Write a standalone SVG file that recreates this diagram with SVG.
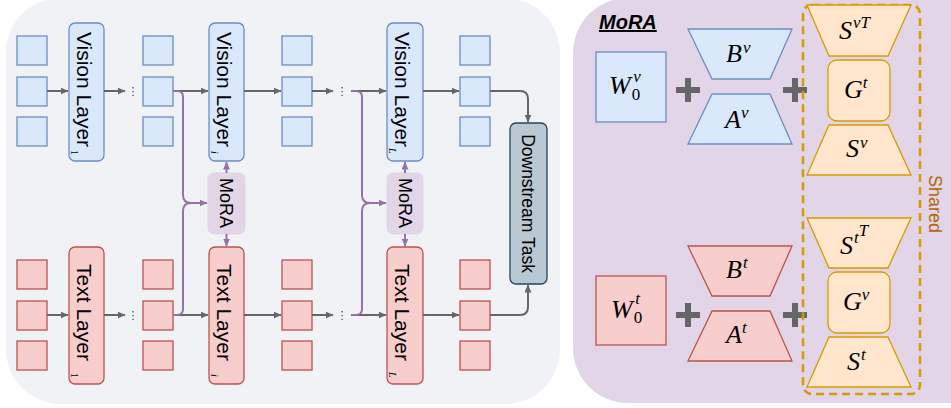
<svg xmlns="http://www.w3.org/2000/svg" width="951" height="408" viewBox="0 0 951 408">
<defs>
<style>
.bg-left{fill:#f1f2f6;}
.bg-right{fill:#e1d5e7;}
.vsq{fill:#dae8fc;stroke:#6c8ebf;stroke-width:1.3;}
.tsq{fill:#f8cecc;stroke:#b85450;stroke-width:1.3;}
.org{fill:#ffe6cc;stroke:#d79b00;stroke-width:1.3;}
.mora{fill:#e1d5e7;stroke:#e1d5e7;stroke-width:1;}
.ds{fill:#bac8d3;stroke:#23445d;stroke-width:1.3;}
.lbl{font-family:"Liberation Sans",Arial,sans-serif;font-size:21px;fill:#000;}
.mlbl{font-family:"Liberation Sans",Arial,sans-serif;font-size:18px;fill:#000;}
.sub{font-family:"Liberation Serif","Times New Roman",serif;font-size:10px;fill:#000;}
.dots{font-family:"DejaVu Sans",sans-serif;font-size:11px;fill:#333;}
.g{fill:none;stroke:#666666;stroke-width:2;}
.p{fill:none;stroke:#9673a6;stroke-width:2;}
.plus{stroke:#666666;stroke-width:6;fill:none;}
.m{font-family:"Liberation Serif","Times New Roman",serif;font-style:italic;font-size:26px;fill:#000;}
.s{font-size:17px;}
.n{font-style:normal;}
.title{font-family:"Liberation Sans",Arial,sans-serif;font-weight:bold;font-style:italic;font-size:20px;text-decoration:underline;fill:#000;}
.shared{font-family:"Liberation Sans",Arial,sans-serif;font-size:18px;fill:#b46504;}
</style>
<marker id="ag" viewBox="0 0 8 7" markerWidth="8" markerHeight="7" refX="7.5" refY="3.5" orient="auto" markerUnits="userSpaceOnUse"><path d="M0,0 L8,3.5 L0,7 z" fill="#666666"/></marker>
<marker id="ap" viewBox="0 0 8 7" markerWidth="8" markerHeight="7" refX="7.5" refY="3.5" orient="auto" markerUnits="userSpaceOnUse"><path d="M0,0 L8,3.5 L0,7 z" fill="#9673a6"/></marker>
</defs>

<rect class="bg-left" x="6" y="-2" width="554" height="406" rx="55"/>
<rect class="bg-right" x="573" y="-2" width="430" height="405" rx="55"/>

<!-- token squares -->
<g id="vision-tokens-0"><rect class="vsq" x="17" y="36" width="30" height="29"/><rect class="vsq" x="17" y="77" width="30" height="29"/><rect class="vsq" x="17" y="117" width="30" height="29"/></g>
<g id="vision-tokens-1"><rect class="vsq" x="143" y="36" width="30" height="29"/><rect class="vsq" x="143" y="77" width="30" height="29"/><rect class="vsq" x="143" y="117" width="30" height="29"/></g>
<g id="vision-tokens-2"><rect class="vsq" x="282" y="36" width="30" height="29"/><rect class="vsq" x="282" y="77" width="30" height="29"/><rect class="vsq" x="282" y="117" width="30" height="29"/></g>
<g id="vision-tokens-3"><rect class="vsq" x="460" y="36" width="30" height="29"/><rect class="vsq" x="460" y="77" width="30" height="29"/><rect class="vsq" x="460" y="117" width="30" height="29"/></g>
<g id="text-tokens-0"><rect class="tsq" x="17" y="260" width="30" height="29"/><rect class="tsq" x="17" y="301" width="30" height="29"/><rect class="tsq" x="17" y="341" width="30" height="29"/></g>
<g id="text-tokens-1"><rect class="tsq" x="143" y="260" width="30" height="29"/><rect class="tsq" x="143" y="301" width="30" height="29"/><rect class="tsq" x="143" y="341" width="30" height="29"/></g>
<g id="text-tokens-2"><rect class="tsq" x="282" y="260" width="30" height="29"/><rect class="tsq" x="282" y="301" width="30" height="29"/><rect class="tsq" x="282" y="341" width="30" height="29"/></g>
<g id="text-tokens-3"><rect class="tsq" x="460" y="260" width="30" height="29"/><rect class="tsq" x="460" y="301" width="30" height="29"/><rect class="tsq" x="460" y="341" width="30" height="29"/></g>

<!-- layers -->
<g id="vision-layer-1"><rect class="vsq" x="69" y="23" width="35" height="138" rx="6"/><text class="lbl" transform="translate(77,89.5) rotate(90)" text-anchor="middle">Vision Layer</text><text class="sub" transform="translate(71,150) rotate(90)">1</text></g>
<g id="vision-layer-i"><rect class="vsq" x="209" y="23" width="35" height="138" rx="6"/><text class="lbl" transform="translate(217,89.5) rotate(90)" text-anchor="middle">Vision Layer</text><text class="sub" font-style="italic" transform="translate(211,151) rotate(90)">i</text></g>
<g id="vision-layer-L"><rect class="vsq" x="387" y="23" width="36" height="138" rx="6"/><text class="lbl" transform="translate(395,89.5) rotate(90)" text-anchor="middle">Vision Layer</text><text class="sub" font-style="italic" transform="translate(389,148) rotate(90)">L</text></g>
<g id="text-layer-1"><rect class="tsq" x="69" y="247" width="35" height="137" rx="6"/><text class="lbl" transform="translate(77,312.5) rotate(90)" text-anchor="middle">Text Layer</text><text class="sub" transform="translate(71,373) rotate(90)">1</text></g>
<g id="text-layer-i"><rect class="tsq" x="209" y="247" width="35" height="137" rx="6"/><text class="lbl" transform="translate(217,312.5) rotate(90)" text-anchor="middle">Text Layer</text><text class="sub" font-style="italic" transform="translate(211,374) rotate(90)">i</text></g>
<g id="text-layer-L"><rect class="tsq" x="387" y="247" width="36" height="137" rx="6"/><text class="lbl" transform="translate(395,312.5) rotate(90)" text-anchor="middle">Text Layer</text><text class="sub" font-style="italic" transform="translate(389,372) rotate(90)">L</text></g>
<g id="mora-i"><rect class="mora" x="208" y="173" width="37" height="61" rx="6"/><text class="mlbl" transform="translate(219.5,203) rotate(90)" text-anchor="middle">MoRA</text></g>
<g id="mora-L"><rect class="mora" x="387" y="173" width="36" height="61" rx="6"/><text class="mlbl" transform="translate(398.5,203) rotate(90)" text-anchor="middle">MoRA</text></g>
<g id="downstream"><rect class="ds" x="510" y="123" width="37" height="161" rx="6"/><text class="mlbl" style="font-size:17.5px" transform="translate(522,203.5) rotate(90)" text-anchor="middle">Downstream Task</text></g>

<g id="ellipsis">
<text class="dots" x="133" y="95" text-anchor="middle">⋮</text>
<text class="dots" x="342" y="95" text-anchor="middle">⋮</text>
<text class="dots" x="133" y="319" text-anchor="middle">⋮</text>
<text class="dots" x="342" y="319" text-anchor="middle">⋮</text>
</g>

<!-- connectors -->
<g id="connectors">
<path class="g" d="M47,91 H68" marker-end="url(#ag)"/>
<path class="g" d="M104,91 H125" marker-end="url(#ag)"/>
<path class="g" d="M173,91 H208" marker-end="url(#ag)"/>
<path class="g" d="M244,91 H281" marker-end="url(#ag)"/>
<path class="g" d="M312,91 H333" marker-end="url(#ag)"/>
<path class="g" d="M351,91 H386" marker-end="url(#ag)"/>
<path class="g" d="M423,91 H459" marker-end="url(#ag)"/>
<path class="g" d="M490,91 H520 Q528,91 528,99 V122" marker-end="url(#ag)"/>
<path class="g" d="M47,315 H68" marker-end="url(#ag)"/>
<path class="g" d="M104,315 H125" marker-end="url(#ag)"/>
<path class="g" d="M173,315 H208" marker-end="url(#ag)"/>
<path class="g" d="M244,315 H281" marker-end="url(#ag)"/>
<path class="g" d="M312,315 H333" marker-end="url(#ag)"/>
<path class="g" d="M351,315 H386" marker-end="url(#ag)"/>
<path class="g" d="M423,315 H459" marker-end="url(#ag)"/>
<path class="g" d="M490,315 H520 Q528,315 528,307 V285" marker-end="url(#ag)"/>
<path class="p" d="M173,91 H177 Q183,91 183,97 V195 Q183,203 191,203 H207" marker-end="url(#ap)"/>
<path class="p" d="M173,315 H177 Q183,315 183,309 V211 Q183,203 191,203"/>
<path class="p" d="M351,91 H356 Q362,91 362,97 V195 Q362,203 370,203 H386" marker-end="url(#ap)"/>
<path class="p" d="M351,315 H356 Q362,315 362,309 V211 Q362,203 370,203"/>
<path class="p" d="M226.5,173 V162" marker-end="url(#ap)"/>
<path class="p" d="M226.5,234 V246" marker-end="url(#ap)"/>
<path class="p" d="M405,173 V162" marker-end="url(#ap)"/>
<path class="p" d="M405,234 V246" marker-end="url(#ap)"/>
</g>

<!-- MoRA detail panel -->
<text class="title" x="599" y="29">MoRA</text>

<g id="W0v"><rect class="vsq" x="596" y="52" width="70" height="70"/><text class="m" x="609" y="94">W<tspan class="s n" dx="1" dy="6">0</tspan><tspan class="s" dx="-7" dy="-18">v</tspan></text></g>
<g id="plus-v1"><path class="plus" d="M676,90 H700 M688,78 V102"/></g>
<g id="Bv"><polygon class="vsq" points="688,29 792,29 770,79 712,79"/><text class="m" x="726" y="62">B<tspan class="s" dx="1" dy="-9">v</tspan></text></g>
<g id="Av"><polygon class="vsq" points="712,94 770,94 792,144 688,144"/><text class="m" x="725" y="128">A<tspan class="s" dx="0" dy="-10">v</tspan></text></g>
<g id="plus-v2"><path class="plus" d="M783,90 H807 M795,78 V102"/></g>

<g id="W0t"><rect class="tsq" x="596" y="276" width="70" height="69"/><text class="m" x="611" y="318">W<tspan class="s n" dx="1" dy="5">0</tspan><tspan class="s" dx="-7" dy="-19">t</tspan></text></g>
<g id="plus-t1"><path class="plus" d="M676,315 H700 M688,303 V327"/></g>
<g id="Bt"><polygon class="tsq" points="688,246 792,246 770,296 712,296"/><text class="m" x="726" y="278">B<tspan class="s" dx="1" dy="-10">t</tspan></text></g>
<g id="At"><polygon class="tsq" points="712,311 770,311 792,361 688,361"/><text class="m" x="726" y="343">A<tspan class="s" dx="0" dy="-10">t</tspan></text></g>
<g id="plus-t2"><path class="plus" d="M783,315 H807 M795,303 V327"/></g>

<g id="shared-box"><rect x="803" y="5" width="117" height="389" rx="9" fill="none" stroke="#d79b00" stroke-width="2.5" stroke-dasharray="8,5"/><text class="shared" transform="translate(929,204) rotate(90)" text-anchor="middle">Shared</text></g>

<g id="SvT"><polygon class="org" points="807,5 911,5 888,56 829,56"/><text class="m" x="839" y="39">S<tspan class="s" dx="1" dy="-11">vT</tspan></text></g>
<g id="Gt"><rect class="org" x="828" y="60" width="62" height="61" rx="9"/><text class="m" x="844" y="98">G<tspan class="s" dx="0" dy="-10">t</tspan></text></g>
<g id="Sv"><polygon class="org" points="829,125 888,125 911,175 807,175"/><text class="m" x="846" y="157">S<tspan class="s" dx="1" dy="-9">v</tspan></text></g>

<g id="StT"><polygon class="org" points="807,218 911,218 888,268 829,268"/><text class="m" x="840" y="254">S<tspan class="s" dx="1" dy="-11">t</tspan><tspan class="s" dx="0" dy="-7">T</tspan></text></g>
<g id="Gv"><rect class="org" x="828" y="272" width="62" height="61" rx="9"/><text class="m" x="843" y="310">G<tspan class="s" dx="0" dy="-10">v</tspan></text></g>
<g id="St"><polygon class="org" points="829,337 888,337 911,387 807,387"/><text class="m" x="847" y="370">S<tspan class="s" dx="1" dy="-10">t</tspan></text></g>
</svg>
